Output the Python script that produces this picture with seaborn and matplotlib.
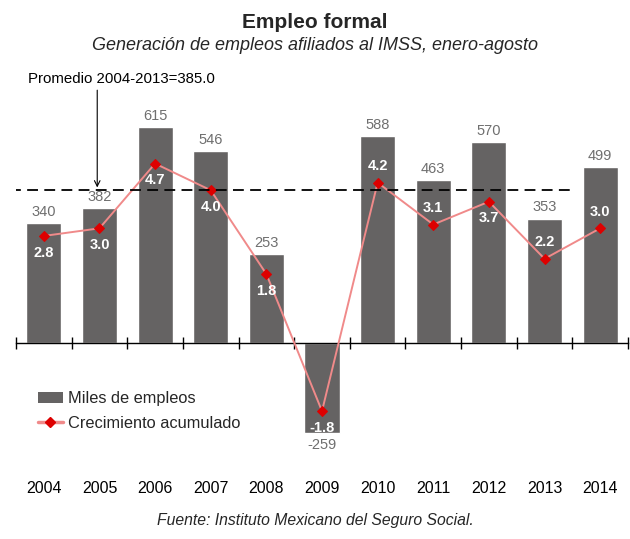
import numpy as np
import pandas as pd
import matplotlib
matplotlib.use("Agg")
import matplotlib.pyplot as plt
import seaborn as sns
from matplotlib.patches import Patch
from matplotlib.lines import Line2D

# datos
anios = ["2004", "2005", "2006", "2007", "2008", "2009", "2010", "2011", "2012", "2013", "2014"]
miles_empleos = [340, 382, 615, 546, 253, -259, 588, 463, 570, 353, 499]
crecimiento = [2.8, 3.0, 4.7, 4.0, 1.8, -1.8, 4.2, 3.1, 3.7, 2.2, 3.0]
# posicion de la etiqueta de crecimiento respecto al punto
pos_etiqueta = ["abajo", "abajo", "abajo", "abajo", "abajo", "abajo",
                "arriba", "arriba", "abajo", "arriba", "arriba"]
promedio = 385.0
# en la referencia la linea punteada queda al nivel 4.0 del eje de crecimiento
nivel_linea = 4.0

titulo = "Empleo formal"
subtitulo = "Generación de empleos afiliados al IMSS, enero-agosto"
fuente = "Fuente: Instituto Mexicano del Seguro Social."

df = pd.DataFrame({"anio": anios, "empleos": miles_empleos,
                   "crec": crecimiento, "pos": np.arange(len(anios))})

sns.set_style("white")
plt.rcParams["font.family"] = ["Liberation Sans", "DejaVu Sans"]

color_barra = "#656363"
color_linea = "#f08a8a"
color_punto = "#dd0000"

fig = plt.figure(figsize=(6.3, 5.39), dpi=100)
ax = fig.add_axes([16 / 630, 1 - 470 / 539, 612 / 630, 410 / 539])

sns.barplot(data=df, x="anio", y="empleos", color=color_barra, width=0.63,
            saturation=1, ax=ax)
ax.set_xlim(-0.5, len(anios) - 0.5)
ax.set_ylim(-363, 805)

ax2 = ax.twinx()
sns.lineplot(data=df, x="pos", y="crec", ax=ax2, color=color_linea, lw=1.4,
             marker="D", markersize=5, markerfacecolor=color_punto,
             markeredgecolor=color_punto)
ax2.set_ylim(-363 / 108.5, 805 / 108.5)
ax2.set_xlim(-0.5, len(anios) - 0.5)

for a in (ax, ax2):
    a.set_xlabel("")
    a.set_ylabel("")
    a.set_yticks([])
    for s in ["top", "right", "left"]:
        a.spines[s].set_visible(False)
ax2.spines["bottom"].set_visible(False)

ax.spines["bottom"].set_position(("data", 0))
ax.spines["bottom"].set_color("black")
ax.spines["bottom"].set_linewidth(1)
ax.set_xticks(np.arange(-0.5, len(anios), 1))
ax.set_xticklabels([])
ax.tick_params(axis="x", direction="inout", length=8, width=1, color="black", bottom=True)
ax2.tick_params(axis="x", bottom=False, labelbottom=False)

# etiquetas de los anios
for i, a in enumerate(anios):
    ax.text(i, -0.027, a, transform=ax.get_xaxis_transform(), ha="center", va="top",
            fontsize=11.5, color="black")

# valores de las barras
for i, v in enumerate(miles_empleos):
    if v >= 0:
        ax.annotate(f"{v}", (i, v), xytext=(0, 3), textcoords="offset points",
                    ha="center", va="bottom", fontsize=10.5, color="#6f6f6f")
    else:
        ax.annotate(f"{v}", (i, v), xytext=(0, -3), textcoords="offset points",
                    ha="center", va="top", fontsize=10.5, color="#6f6f6f")

# valores de crecimiento
for i, (c, p) in enumerate(zip(crecimiento, pos_etiqueta)):
    dy = 12 if p == "arriba" else -12
    ax2.annotate(f"{c:.1f}", (i, c), xytext=(0, dy), textcoords="offset points",
                 ha="center", va="center", fontsize=10.5, color="white", fontweight="bold")

# linea de promedio
ax2.hlines(nivel_linea, -0.6, 9.5, colors="black", linestyles=(0, (6, 3.5)), lw=1.3)
ax2.annotate("", xy=(0.96, nivel_linea), xytext=(0.96, 6.7),
             arrowprops=dict(arrowstyle="->", color="black", lw=0.8))
ax2.text(1.4, 6.92, f"Promedio 2004-2013={promedio:.1f}", ha="center", va="center",
         fontsize=10.8, color="black")

# leyenda
handles = [Patch(facecolor=color_barra, edgecolor="none", label="Miles de empleos"),
           Line2D([0], [0], color=color_linea, lw=2.5, marker="D", markersize=5,
                  markerfacecolor=color_punto, markeredgecolor=color_punto,
                  label="Crecimiento acumulado")]
fig.legend(handles=handles, loc="center left", bbox_to_anchor=(38 / 630, 1 - 411 / 539),
           frameon=False, fontsize=11.8, handlelength=1.5, handletextpad=0.3,
           labelspacing=0.6, borderaxespad=0, borderpad=0)

fig.text(0.5, 1 - 22 / 539, titulo, ha="center", va="center", fontsize=15, fontweight="bold")
fig.text(0.5, 1 - 45 / 539, subtitulo, ha="center", va="center", fontsize=13, style="italic")
fig.text(0.5, 1 - 520 / 539, fuente, ha="center", va="center", fontsize=11.3, style="italic")

fig.savefig("out.png", dpi=100)
